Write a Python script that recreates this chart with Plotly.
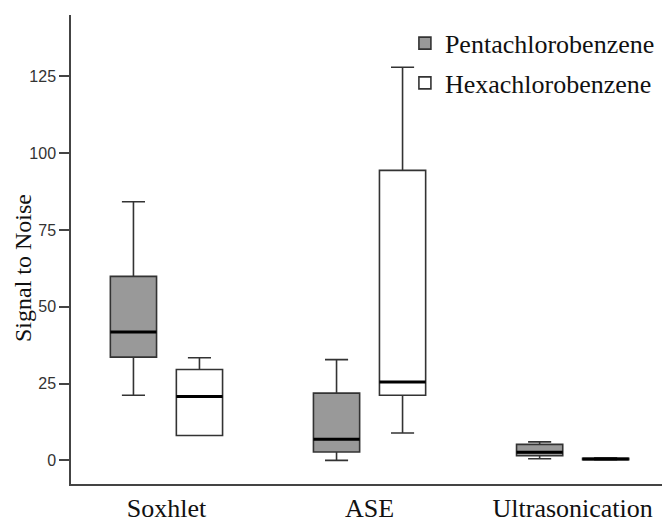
import plotly.graph_objects as go

categories = ["Soxhlet", "ASE", "Ultrasonication"]

# Pentachlorobenzene box statistics
penta_lower = [21.2, 0.0, 0.5]
penta_q1 = [33.6, 2.7, 1.5]
penta_median = [41.8, 6.9, 2.6]
penta_q3 = [59.9, 21.9, 5.2]
penta_upper = [84.2, 32.8, 6.0]

# Hexachlorobenzene box statistics
hexa_lower = [8.1, 8.9, 0.1]
hexa_q1 = [8.1, 21.2, 0.2]
hexa_median = [20.8, 25.5, 0.4]
hexa_q3 = [29.6, 94.4, 0.7]
hexa_upper = [33.4, 128.0, 0.8]

y_ticks = [0, 25, 50, 75, 100, 125]

SERIF = "Liberation Serif, Times New Roman, serif"
SANS = "Liberation Sans, Arial, sans-serif"
X_RANGE = [-0.47, 2.44]

fig = go.Figure()

fig.add_trace(go.Box(
    name="Pentachlorobenzene", x=categories,
    lowerfence=penta_lower, q1=penta_q1, median=penta_median,
    q3=penta_q3, upperfence=penta_upper,
    fillcolor="#999999", line=dict(color="#333333", width=1.6),
    offsetgroup="p", legendgroup="p", boxpoints=False,
    whiskerwidth=0.5, hoverinfo="skip",
))
fig.add_trace(go.Box(
    name="Hexachlorobenzene", x=categories,
    lowerfence=hexa_lower, q1=hexa_q1, median=hexa_median,
    q3=hexa_q3, upperfence=hexa_upper,
    fillcolor="#ffffff", line=dict(color="#333333", width=1.6),
    offsetgroup="h", legendgroup="h", boxpoints=False,
    whiskerwidth=0.5, hoverinfo="skip",
))
# thicker median lines
for grp, med in (("p", penta_median), ("h", hexa_median)):
    fig.add_trace(go.Box(
        x=categories, lowerfence=med, q1=med, median=med, q3=med, upperfence=med,
        fillcolor="rgba(0,0,0,0)", line=dict(color="#000000", width=3),
        offsetgroup=grp, legendgroup=grp, showlegend=False, boxpoints=False,
        whiskerwidth=0, hoverinfo="skip",
    ))

fig.update_layout(
    template="none",
    width=665, height=522,
    margin=dict(l=71, r=3, t=15, b=38),
    paper_bgcolor="white", plot_bgcolor="white",
    boxmode="group", boxgap=0.35, boxgroupgap=0.3,
    showlegend=True,
    legend=dict(
        x=0.565, xanchor="left", y=0.99, yanchor="top",
        font=dict(family=SERIF, size=26, color="#111111"),
        traceorder="grouped", tracegroupgap=3,
        bgcolor="rgba(0,0,0,0)",
    ),
    xaxis=dict(
        type="category", range=X_RANGE, automargin=False,
        showline=True, linecolor="#444444", linewidth=1.5,
        ticks="", ticklabelstandoff=0,
        tickfont=dict(family=SERIF, size=26, color="#111111"),
        showgrid=False, zeroline=False, fixedrange=True,
    ),
    # tick marks only, aligned with the category positions
    xaxis2=dict(
        overlaying="x", range=X_RANGE, automargin=False,
        tickvals=list(range(len(categories))), showticklabels=False,
        showline=False, ticks="outside", ticklen=8,
        tickcolor="#444444", tickwidth=1.5,
        showgrid=False, zeroline=False, fixedrange=True,
    ),
    yaxis=dict(
        range=[-7.7, 145], automargin=False,
        tickvals=y_ticks, ticktext=[str(v) for v in y_ticks],
        showline=True, linecolor="#444444", linewidth=1.5,
        ticks="outside", ticklen=10, tickcolor="#444444", tickwidth=1.5,
        tickfont=dict(family=SANS, size=16, color="#333333"),
        showgrid=False, zeroline=False, fixedrange=True,
    ),
    annotations=[dict(
        text="Signal to Noise", textangle=-90,
        xref="paper", yref="paper", x=-0.08, y=0.46,
        xanchor="center", yanchor="middle", showarrow=False,
        font=dict(family=SERIF, size=24, color="#111111"),
    )],
)

fig.write_html(
    "out.html",
    config={"displayModeBar": False},
    post_script="document.body.style.margin='0px';",
)
